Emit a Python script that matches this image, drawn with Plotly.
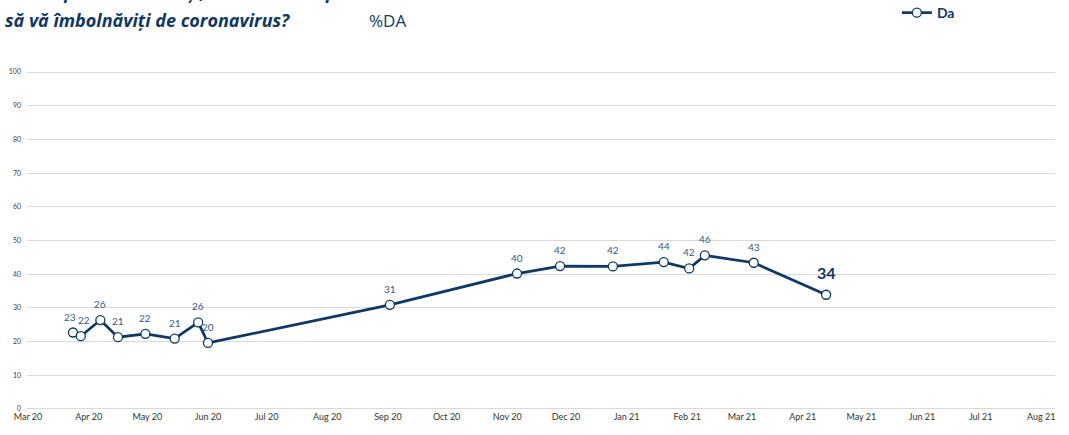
import plotly.graph_objects as go

dates = ["2020-03-24", "2020-03-28", "2020-04-07", "2020-04-16", "2020-04-30",
         "2020-05-15", "2020-05-27", "2020-06-01", "2020-09-02", "2020-11-06",
         "2020-11-28", "2020-12-25", "2021-01-20", "2021-02-02", "2021-02-10",
         "2021-03-07", "2021-04-13"]
da_values = [22.7, 21.6, 26.4, 21.3, 22.3, 20.9, 25.7, 19.6, 30.9, 40.2,
             42.4, 42.3, 43.6, 41.7, 45.6, 43.4, 33.9]
da_labels = ["23", "22", "26", "21", "22", "21", "26", "20", "31", "40",
             "42", "42", "44", "42", "46", "43", "34"]

y_ticks = [0, 10, 20, 30, 40, 50, 60, 70, 80, 90, 100]

NAVY = "#0d3868"
LABEL = "#2e5b8c"
FONT = "Lato"
TFONT = "Open Sans"

# small horizontal nudges so the two first labels do not sit on top of each other
label_xshift = {0: -3, 1: 3}

fig = go.Figure()
fig.add_trace(go.Scatter(
    x=dates, y=da_values, name="Da", mode="lines+markers",
    line=dict(color=NAVY, width=2.75),
    marker=dict(symbol="circle", size=9, color="white",
                line=dict(color=NAVY, width=1.3)),
))

for i, (d, v, t) in enumerate(zip(dates, da_values, da_labels)):
    last = i == len(dates) - 1
    fig.add_annotation(
        x=d, y=v, xref="x", yref="y", text=("<b>%s</b>" % t) if last else t,
        showarrow=False, yshift=22 if last else 16,
        xshift=label_xshift.get(i, 0),
        font=dict(family=FONT, size=16 if last else 10,
                  color=NAVY if last else LABEL),
    )

fig.add_annotation(
    xref="paper", yref="paper", x=-0.0233, y=1.234, xanchor="left", yanchor="middle",
    text="<b><i>Cât de probabil credeți, că este acum posibil</i></b>", showarrow=False,
    font=dict(family=TFONT, size=18, color=NAVY),
)
fig.add_annotation(
    xref="paper", yref="paper", x=-0.0233, y=1.149, xanchor="left", yanchor="middle",
    text="<b><i>să vă îmbolnăviți de coronavirus?</i></b>", showarrow=False,
    font=dict(family=TFONT, size=18, color=NAVY),
)
fig.add_annotation(
    xref="paper", yref="paper", x=0.3307, y=1.149, xanchor="left", yanchor="middle",
    text="%DA", showarrow=False,
    font=dict(family=TFONT, size=17, color=NAVY),
)

fig.update_layout(
    width=1069, height=435,
    margin=dict(l=27, r=14, t=71, b=25, autoexpand=False),
    paper_bgcolor="white", plot_bgcolor="white",
    font=dict(family=FONT, color="#404040"),
    showlegend=True,
    legend=dict(xref="container", yref="container", x=0.839, y=0.970,
                xanchor="left", yanchor="middle",
                orientation="h", bgcolor="rgba(0,0,0,0)",
                font=dict(family=FONT, size=14, color=NAVY, weight="bold"),
                itemwidth=30),
    xaxis=dict(
        type="date", range=["2020-02-29 12:00", "2021-08-08"],
        tick0="2020-03-01", dtick="M1", tickformat="%b %y",
        showgrid=False, zeroline=False, showline=False, ticks="",
        automargin=False,
        tickfont=dict(family=FONT, size=9, color="#333333"),
    ),
    yaxis=dict(
        range=[-0.3, 100.3], tickvals=y_ticks,
        showgrid=True, gridcolor="#d9d9d9", gridwidth=1,
        zeroline=False, showline=False, ticks="",
        ticklabelstandoff=5, automargin=False,
        tickfont=dict(family=FONT, size=7, color="#404040"),
    ),
)

fig.write_html(
    "out.html",
    config={"displayModeBar": False},
    post_script="document.body.style.margin='0';document.body.style.overflow='hidden';",
)
